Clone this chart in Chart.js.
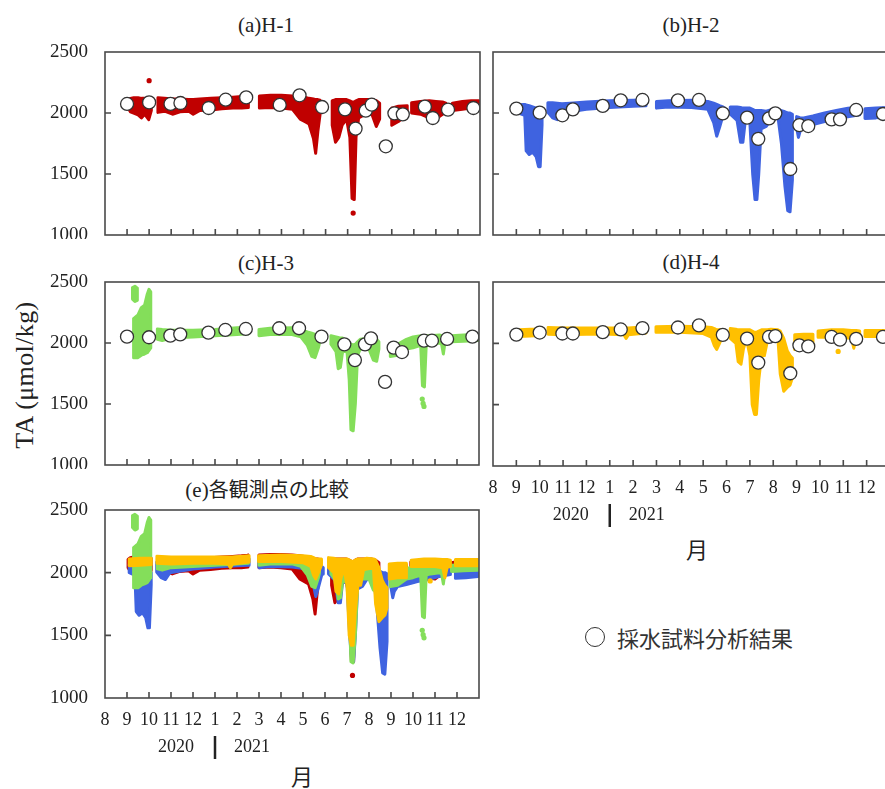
<!DOCTYPE html>
<html lang="ja">
<head>
<meta charset="utf-8">
<title>TA</title>
<script src="https://cdn.jsdelivr.net/npm/chart.js@4"></script>
<style>
  html, body { margin: 0; padding: 0; background: #fff; }
  body { width: 885px; height: 789px; overflow: hidden; position: relative; color: #222; }
  canvas { position: absolute; }
  .t { position: absolute; transform: translate(-50%, -50%); white-space: nowrap; font-family: "Liberation Serif", serif; }
  .jp { font-family: "Noto Sans CJK JP", sans-serif; }
</style>
</head>
<body>

<!-- titres des panneaux -->
<div class="t" style="left:266px;top:25px;font-size:21px">(a)H-1</div>
<div class="t" style="left:691px;top:25px;font-size:21px">(b)H-2</div>
<div class="t" style="left:266px;top:263px;font-size:21px">(c)H-3</div>
<div class="t" style="left:691px;top:262px;font-size:21px">(d)H-4</div>
<div class="t" style="left:267px;top:488px;font-size:21px">(e)<span class="jp" style="font-size:20px">各観測点の比較</span></div>

<div class="t" style="left:25px;top:375px;font-size:26px;letter-spacing:0.4px;transform:translate(-50%,-50%) rotate(-90deg)">TA (μmol/kg)</div>

<div class="t jp" style="left:697px;top:548px;font-size:22px">月</div>
<div class="t jp" style="left:302px;top:775px;font-size:22px">月</div>

<!-- légende -->
<div style="position:absolute;left:585px;top:627px;width:18px;height:18px;border:1.5px solid #333;border-radius:50%"></div>
<div class="jp" style="position:absolute;left:617px;top:637px;transform:translateY(-50%);font-size:22px;color:#333;white-space:nowrap">採水試料分析結果</div>

<canvas id="cA" width="483" height="203" style="left:0;top:36px"></canvas>
<canvas id="cB" width="420" height="203" style="left:480px;top:36px"></canvas>
<canvas id="cC" width="483" height="203" style="left:0;top:266px"></canvas>
<canvas id="cD" width="420" height="270" style="left:480px;top:266px"></canvas>
<canvas id="cE" width="483" height="274" style="left:0;top:494px"></canvas>

<script>
  // axe des temps : mois écoulés depuis le 1er août 2020
  const months = ['8', '9', '10', '11', '12', '1', '2', '3', '4', '5', '6', '7', '8', '9', '10', '11', '12'];
  const taTicks = [1000, 1500, 2000, 2500];
  const years = ['2020', '2021'];
  const yearBreak = 5; // janvier 2021

  // dates des prélèvements (analyse des échantillons)
  const sampleMonths = [1.0, 2.0, 2.97, 3.42, 4.7, 5.47, 6.4, 7.92, 8.82, 9.84, 10.88, 11.36, 11.82, 12.09, 12.73, 13.12, 13.5, 14.5, 14.86, 15.55, 16.7];

  // H-1 : enveloppe haute / basse du capteur (null = coupure)
  const h1X   = [1.05, 1.15, 1.3, 1.5, 1.65, 1.8, 1.98, 2.1, null,
                 2.4, 2.7, 3.06, 3.4, 3.8, 4.0, 4.3, 4.8, 5.3, 5.8, 6.2, 6.5, null,
                 7.0, 7.5, 8.0, 8.5, 8.85, 9.05, 9.25, 9.45, 9.55, 9.65, 9.75, null,
                 10.3, 10.45, 10.6, 10.75, 10.95, 11.1, 11.2, 11.3, 11.38, 11.5, 11.8, 12.1, 12.3, 12.45, null,
                 13.0, 13.3, 13.7, null,
                 13.9, 14.3, 14.7, 15.0, 15.3, 15.45, null,
                 15.75, 16.2, 16.6, 16.95];
  const h1Max = [2105, 2120, 2125, 2125, 2120, 2120, 2125, 2115, null,
                 2125, 2120, 2115, 2115, 2110, 2110, 2115, 2120, 2125, 2130, 2135, 2140, null,
                 2140, 2145, 2145, 2140, 2135, 2130, 2120, 2115, 2110, 2110, 2105, null,
                 2100, 2110, 2110, 2110, 2110, 2100, 2090, 2090, 2100, 2110, 2110, 2110, 2100, 2080, null,
                 2040, 2055, 2060, null,
                 2085, 2095, 2100, 2095, 2090, 2080, null,
                 2080, 2095, 2100, 2100];
  const h1Min = [2040, 2010, 2000, 1985, 1960, 1990, 1945, 2020, null,
                 2005, 2015, 1990, 2010, 2015, 1990, 2020, 2025, 2035, 2040, 2040, 2045, null,
                 2040, 2045, 2040, 2030, 1950, 1930, 1910, 1790, 1670, 1850, 1990, null,
                 1900, 1760, 1800, 1900, 1950, 1800, 1300, 1290, 1800, 1960, 1990, 1990, 1890, 1950, null,
                 1900, 1930, 1990, null,
                 2000, 1990, 1960, 1950, 1990, 2010, null,
                 2020, 2030, 2040, 2040];
  const h1StrayX  = [2.0, 11.25];
  const h1StrayTA = [2265, 1180];
  const h1Sample  = [2074, 2087, 2074, 2082, 2041, 2109, 2128, 2066, 2145, 2049, 2030, 1872, 2019, 2068, 1727, 1997, 1989, 2052, 1959, 2027, 2041];

  // H-2
  const h2X   = [1.1, 1.3, 1.36, 1.42, 1.55, 1.7, 1.85, 1.95, 2.02, 2.1, null,
                 2.35, 2.55, 2.75, 2.95, 3.3, 4.0, 5.0, 6.0, 6.55, null,
                 7.0, 7.5, 8.5, 9.2, 9.45, 9.58, 9.7, 9.85, 9.92, null,
                 10.16, 10.45, 10.6, 10.7, 10.8, 11.0, 11.12, 11.22, 11.3, 11.38, 11.48, 11.7, 11.95, 12.2, 12.35, 12.5, 12.62, 12.72, 12.82, null,
                 13.0, 13.08, 13.15, 13.3, 13.7, 14.2, 14.7, 15.2, 15.7, null,
                 15.93, 16.4, 16.95];
  const h2Max = [2065, 2070, 2070, 2065, 2060, 2050, 2040, 2030, 2010, 2000, null,
                 2085, 2085, 2080, 2075, 2080, 2090, 2100, 2105, 2110, null,
                 2095, 2100, 2105, 2095, 2080, 2070, 2060, 2050, 2040, null,
                 2050, 2050, 2045, 2040, 2040, 2040, 2030, 2020, 2020, 2020, 2020, 2015, 2030, 2030, 2020, 2010, 2000, 2000, 1990, null,
                 1970, 1965, 1960, 1960, 1975, 2000, 2020, 2040, 2050, null,
                 2035, 2040, 2045];
  const h2Min = [2000, 1985, 1980, 1690, 1660, 1680, 1640, 1560, 1560, 1900, null,
                 2005, 1960, 1945, 2000, 2010, 2030, 2045, 2055, 2060, null,
                 2040, 2050, 2045, 2030, 1920, 1810, 1880, 1980, 1990, null,
                 1990, 1940, 1760, 1760, 1930, 1920, 1500, 1290, 1290, 1500, 1870, 1890, 1960, 1970, 1750, 1400, 1200, 1190, 1450, null,
                 1880, 1800, 1850, 1890, 1905, 1930, 1945, 1970, 1985, null,
                 1955, 1960, 1970];
  const h2Sample = [2036, 2003, 1981, 2030, 2058, 2104, 2107, 2104, 2107, 1997, 1962, 1788, 1956, 1997, 1541, 1901, 1893, 1948, 1948, 2025, 1992];

  // H-3
  const h3X   = [1.25, 1.36, 1.47, null,
                 1.3, 1.5, 1.65, 1.8, 1.92, 2.0, 2.08, null,
                 2.38, 2.6, 3.0, 4.0, 5.0, 6.0, 6.52, null,
                 7.0, 7.5, 8.5, 8.9, 9.2, 9.4, 9.55, 9.7, 9.75, null,
                 10.27, 10.5, 10.6, 10.7, 10.8, 11.0, 11.1, 11.18, 11.28, 11.38, 11.48, 11.6, 12.0, 12.2, 12.35, 12.45, null,
                 12.97, 13.3, 13.7, 14.0, 14.35, 14.43, 14.52, 14.6, 14.8, 15.2, 15.3, 15.38, 15.45, null,
                 15.75, 16.3, 16.95];
  const h3Max = [2455, 2465, 2450, null,
                 2200, 2230, 2290, 2310, 2400, 2440, 2420, null,
                 2115, 2110, 2105, 2105, 2110, 2125, 2130, null,
                 2110, 2120, 2125, 2110, 2090, 2080, 2070, 2060, 2060, null,
                 2060, 2050, 2045, 2040, 2040, 2020, 2000, 1990, 1985, 1990, 2010, 2030, 2040, 2040, 2030, 2010, null,
                 1980, 1990, 2030, 2050, 2060, 2060, 2055, 2060, 2060, 2065, 2060, 2055, 2050, null,
                 2060, 2065, 2070];
  const h3Min = [2360, 2340, 2350, null,
                 1880, 1880, 1900, 1910, 1920, 1940, 1960, null,
                 2030, 2020, 2040, 2050, 2060, 2070, 2075, null,
                 2060, 2070, 2070, 2050, 1980, 1890, 1880, 1960, 2000, null,
                 1990, 1930, 1790, 1800, 1930, 1930, 1700, 1290, 1280, 1500, 1900, 1950, 1950, 1860, 1850, 1950, null,
                 1890, 1900, 1950, 1960, 1980, 1650, 1640, 1980, 1990, 2000, 1990, 1910, 2000, null,
                 2010, 2015, 2020];
  const h3StrayX  = [14.42, 14.46, 14.5];
  const h3StrayTA = [1540, 1505, 1480];
  const h3Sample  = [2052, 2047, 2060, 2071, 2085, 2107, 2115, 2121, 2121, 2052, 1989, 1860, 1989, 2038, 1681, 1962, 1926, 2019, 2019, 2033, 2052];

  // H-4
  const h4X   = [1.1, 1.6, 2.1, null,
                 2.36, 3.0, 4.0, 5.0, 5.6, 5.7, 5.8, 6.55, null,
                 6.98, 8.0, 9.0, 9.35, 9.48, 9.58, 9.7, 9.84, null,
                 10.16, 10.4, 10.5, 10.62, 10.72, 10.85, 11.0, 11.1, 11.2, 11.28, 11.38, 11.5, 11.62, 11.75, 11.9, 12.2, 12.3, 12.45, 12.6, 12.72, 12.82, null,
                 12.92, 13.3, 13.7, null,
                 13.92, 14.5, 15.0, 15.35, 15.45, 15.55, 15.7, null,
                 15.93, 16.4, 16.95];
  const h4Max = [2110, 2115, 2115, null,
                 2130, 2125, 2125, 2125, 2125, 2125, 2125, 2135, null,
                 2135, 2140, 2135, 2130, 2120, 2110, 2110, 2110, null,
                 2120, 2115, 2110, 2110, 2110, 2110, 2110, 2100, 2090, 2090, 2100, 2110, 2110, 2110, 2115, 2110, 2100, 2040, 1940, 1900, 1880, null,
                 2070, 2075, 2075, null,
                 2100, 2110, 2110, 2105, 2105, 2105, 2100, null,
                 2105, 2105, 2105];
  const h4Min = [2055, 2060, 2065, null,
                 2075, 2070, 2075, 2075, 2070, 2040, 2070, 2085, null,
                 2090, 2090, 2080, 2050, 1980, 1950, 2000, 2060, null,
                 2040, 2000, 1850, 1830, 1950, 2040, 1900, 1500, 1420, 1420, 1700, 1900, 1900, 2020, 2030, 2040, 1750, 1610, 1640, 1660, 1720, null,
                 1950, 1960, 1960, null,
                 2050, 2050, 2050, 2040, 1960, 2040, 2050, null,
                 2055, 2055, 2055];
  const h4StrayX  = [14.78];
  const h4StrayTA = [1934];
  const h4Sample  = [2071, 2088, 2080, 2080, 2091, 2113, 2124, 2129, 2146, 2069, 2038, 1843, 2052, 2058, 1756, 1984, 1975, 2052, 2030, 2036, 2052];

  const RED = '#c00000', BLUE = '#3f63e0', GREEN = '#84de5a', GOLD = '#ffc000';
  const serif = '"Liberation Serif", "Times New Roman", serif';

  // une bande pleine par tronçon continu (contour haut puis bas, refermé)
  function band(xs, hi, lo, color, order) {
    const sets = [];
    let idx = [];
    const close = () => {
      if (idx.length) {
        const top = idx.map(i => ({x: xs[i], y: hi[i]}));
        const bottom = idx.map(i => ({x: xs[i], y: lo[i]})).reverse();
        sets.push({
          data: top.concat(bottom, [top[0]]),
          fill: 'shape',
          backgroundColor: color,
          borderColor: color,
          borderWidth: 3,
          borderJoinStyle: 'round',
          borderCapStyle: 'round',
          pointRadius: 0,
          tension: 0,
          order: order
        });
      }
      idx = [];
    };
    xs.forEach((x, i) => { if (x === null) close(); else idx.push(i); });
    close();
    return sets;
  }

  function strays(xs, ys, color, order) {
    return {
      data: xs.map((x, i) => ({x: x, y: ys[i]})),
      showLine: false,
      pointRadius: 2.6,
      pointBackgroundColor: color,
      pointBorderWidth: 0,
      order: order
    };
  }

  function samples(ys) {
    return {
      data: sampleMonths.map((x, i) => ({x: x, y: ys[i]})),
      showLine: false,
      pointRadius: 6.5,
      pointBackgroundColor: '#fff',
      pointBorderColor: '#333',
      pointBorderWidth: 1.3,
      order: 0
    };
  }

  // cadre et graduations intérieures
  const frame = {
    id: 'frame',
    afterDatasetsDraw(chart) {
      const {ctx, chartArea: a, scales: {x, y}} = chart;
      ctx.save();
      ctx.strokeStyle = '#4a4a4a';
      ctx.lineWidth = 1.6;
      ctx.strokeRect(a.left, a.top, a.right - a.left, a.bottom - a.top);
      ctx.beginPath();
      for (let m = 1; m < months.length; m++) {
        const px = x.getPixelForValue(m);
        ctx.moveTo(px, a.bottom);
        ctx.lineTo(px, a.bottom - 6);
      }
      taTicks.slice(1, -1).forEach(v => {
        const py = y.getPixelForValue(v);
        ctx.moveTo(a.left, py);
        ctx.lineTo(a.left + 6, py);
      });
      ctx.stroke();
      ctx.restore();
    }
  };

  // 2020 | 2021 sous les mois
  const yearRow = {
    id: 'yearRow',
    afterDraw(chart, args, opts) {
      if (!opts.show) return;
      const {ctx, chartArea: a, scales: {x}} = chart;
      const px = x.getPixelForValue(yearBreak);
      ctx.save();
      ctx.fillStyle = '#222';
      ctx.font = '18px ' + serif;
      ctx.textBaseline = 'middle';
      ctx.textAlign = 'right';
      ctx.fillText(years[0], px - 21, a.bottom + 49);
      ctx.textAlign = 'left';
      ctx.fillText(years[1], px + 19, a.bottom + 49);
      ctx.strokeStyle = '#222';
      ctx.lineWidth = 2.5;
      ctx.beginPath();
      ctx.moveTo(px, a.bottom + 38);
      ctx.lineTo(px, a.bottom + 61);
      ctx.stroke();
      ctx.restore();
    }
  };

  function panel(id, datasets, cfg) {
    const xScale = {
      type: 'linear', min: 0, max: 17, display: cfg.showX,
      grid: {display: false, drawTicks: false},
      border: {display: false},
      ticks: {
        stepSize: 1, autoSkip: false, maxRotation: 0, padding: 11,
        color: '#222', font: {family: serif, size: 18},
        callback: v => months[v] ?? ''
      },
      afterFit: s => {
        if (cfg.showX) s.height = 70;
        s.paddingLeft = 0;
        s.paddingRight = 0;
      }
    };
    const yScale = {
      type: 'linear', min: taTicks[0], max: taTicks[taTicks.length - 1], display: cfg.showY,
      grid: {display: false, drawTicks: false},
      border: {display: false},
      ticks: {
        stepSize: 500, padding: 17, color: '#222', font: {family: serif, size: 19},
        callback: v => String(v)
      },
      afterFit: s => {
        if (cfg.showY) s.width = 105;
        s.paddingTop = 0;
        s.paddingBottom = 0;
      }
    };

    return new Chart(document.getElementById(id), {
      type: 'line',
      data: {datasets: datasets},
      options: {
        responsive: false,
        animation: false,
        events: [],
        layout: {padding: cfg.padding, autoPadding: false},
        plugins: {legend: {display: false}, tooltip: {enabled: false}, yearRow: {show: cfg.showX}},
        scales: {x: xScale, y: yScale}
      },
      plugins: [frame, yearRow]
    });
  }

  panel('cA', [samples(h1Sample), ...band(h1X, h1Max, h1Min, RED, 1), strays(h1StrayX, h1StrayTA, RED, 1)],
        {showX: false, showY: true, padding: {top: 16, right: 3, bottom: 4, left: 0}});
  panel('cB', [samples(h2Sample), ...band(h2X, h2Max, h2Min, BLUE, 1)],
        {showX: false, showY: false, padding: {top: 16, right: 10, bottom: 4, left: 13}});
  panel('cC', [samples(h3Sample), ...band(h3X, h3Max, h3Min, GREEN, 1), strays(h3StrayX, h3StrayTA, GREEN, 1)],
        {showX: false, showY: true, padding: {top: 16, right: 4, bottom: 4, left: 0}});
  panel('cD', [samples(h4Sample), ...band(h4X, h4Max, h4Min, GOLD, 1), strays(h4StrayX, h4StrayTA, GOLD, 1)],
        {showX: true, showY: false, padding: {top: 16, right: 10, bottom: 0, left: 13}});

  // comparaison : H-4 au-dessus, puis H-3, H-2, H-1
  panel('cE', [
      ...band(h4X, h4Max, h4Min, GOLD, 1), strays(h4StrayX, h4StrayTA, GOLD, 1),
      ...band(h3X, h3Max, h3Min, GREEN, 2), strays(h3StrayX, h3StrayTA, GREEN, 2),
      ...band(h2X, h2Max, h2Min, BLUE, 3),
      ...band(h1X, h1Max, h1Min, RED, 4), strays(h1StrayX, h1StrayTA, RED, 4)
    ],
    {showX: true, showY: true, padding: {top: 16, right: 4, bottom: 0, left: 0}});
</script>
</body>
</html>
